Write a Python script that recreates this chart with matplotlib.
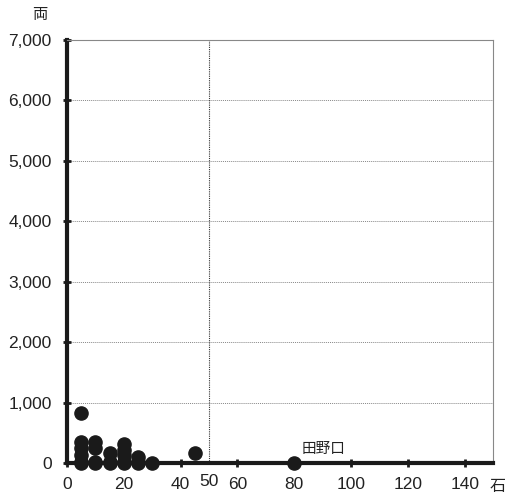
import matplotlib.pyplot as plt

# koku (x) vs ryo (y) of each village
koku = [5, 5, 5, 5, 5, 5,
        10, 10, 10, 10,
        15, 15, 15,
        20, 20, 20, 20, 20,
        25, 25, 25,
        30, 45, 80]
ryo = [820, 350, 250, 130, 20, 0,
       340, 240, 20, 0,
       165, 20, 0,
       310, 210, 130, 20, 0,
       100, 20, 0,
       0, 160, 0]
label_name = "田野口"
label_x, label_y = 80, 0

yticks = [0, 1000, 2000, 3000, 4000, 5000, 6000, 7000]
xticks = [0, 20, 40, 60, 80, 100, 120, 140]

plt.rcParams['font.family'] = ['Liberation Sans', 'Noto Sans CJK JP']

fig = plt.figure(figsize=(5.11, 5.01), dpi=100)
ax = fig.add_axes([0.131, 0.076, 0.834, 0.844])

ax.scatter(koku, ryo, s=90, color='#1a1a1a', zorder=5, clip_on=False)
ax.text(label_x + 2.5, label_y + 160, label_name, fontsize=10.5, color='#222222')

ax.set_xlim(0, 150)
ax.set_ylim(0, 7000)

ax.set_yticks(yticks)
ax.set_yticklabels([f'{v:,}' for v in yticks], fontsize=12.5, color='#222222')
ax.set_xticks(xticks)
ax.set_xticklabels([str(v) for v in xticks], fontsize=12.5, color='#222222')
ax.set_xticks([50], minor=True)
ax.set_xticklabels(['50'], minor=True, fontsize=12.5, color='#222222')
ax.tick_params(axis='x', which='minor', length=0, pad=8)
ax.tick_params(axis='both', which='major', direction='inout', length=6, width=2,
               color='#1a1a1a')
ax.tick_params(axis='x', which='major', pad=7)
ax.tick_params(axis='y', which='major', pad=8)

for v in yticks[1:-1]:
    ax.axhline(v, color='#888888', linestyle=(0, (1, 1)), linewidth=0.7, zorder=1)
ax.axvline(50, color='#333333', linestyle=(0, (1, 1)), linewidth=0.8, zorder=1)

ax.spines['left'].set_linewidth(3)
ax.spines['left'].set_color('#1a1a1a')
ax.spines['bottom'].set_linewidth(3)
ax.spines['bottom'].set_color('#1a1a1a')
ax.spines['top'].set_linewidth(0.8)
ax.spines['top'].set_color('#888888')
ax.spines['right'].set_linewidth(0.8)
ax.spines['right'].set_color('#888888')

fig.text(40 / 511, 1 - 15 / 501, '両', fontsize=11, ha='center', va='center', color='#222222')
fig.text(498 / 511, 1 - 487 / 501, '石', fontsize=11.5, ha='center', va='center', color='#222222')

fig.savefig('out.png', dpi=100)
